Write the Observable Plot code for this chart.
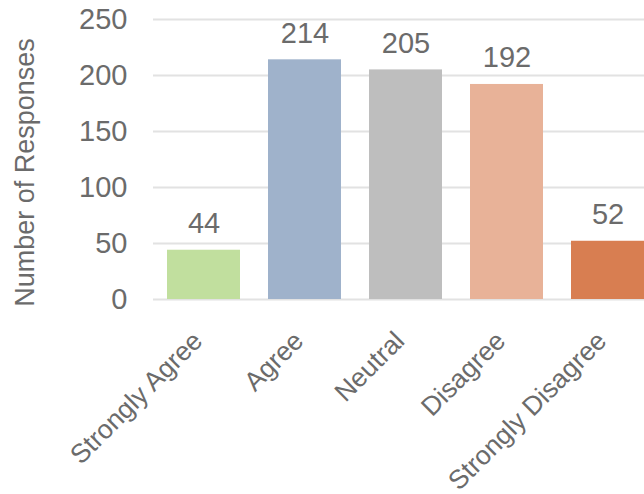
<!DOCTYPE html>
<html><head><meta charset="utf-8">
<script src="https://cdn.jsdelivr.net/npm/d3@7"></script>
<script src="https://cdn.jsdelivr.net/npm/@observablehq/plot@0.6"></script>
<style>body{margin:0;background:#fff}</style>
</head><body><div id="chart"></div>
<script>
const categories = ["Strongly Agree", "Agree", "Neutral", "Disagree", "Strongly Disagree"];
const responses = [44, 214, 205, 192, 52];
const barColors = ["#C1DF9E", "#9FB2CB", "#BEBEBE", "#E8B298", "#D87E51"];
const yTicks = [0, 50, 100, 150, 200, 250];
const yTitle = "Number of Responses";

const data = categories.map((c, i) => ({category: c, value: responses[i]}));
const textColor = "#6b6b6b";

const chart = Plot.plot({
  width: 644, height: 494,
  marginTop: 19, marginBottom: 195, marginLeft: 153, marginRight: 0,
  style: {fontFamily: "'Liberation Sans', Arial, sans-serif", background: "#fff", overflow: "visible"},
  x: {domain: categories, range: [153, 658], paddingInner: 0.28, paddingOuter: 0.14, axis: null},
  y: {domain: [0, 250], axis: null},
  color: {domain: categories, range: barColors},
  marks: [
    Plot.gridY(yTicks, {stroke: "#e2e2e2", strokeOpacity: 1, strokeWidth: 2}),
    Plot.barY(data, {x: "category", y: "value", fill: "category"}),
    Plot.axisY(yTicks, {tickSize: 0, tickPadding: 26, fontSize: 29, fill: textColor, label: null}),
    Plot.text(data, {x: "category", y: "value", text: d => String(d.value), dy: -17, lineAnchor: "bottom", fontSize: 29, fill: textColor}),
    Plot.text(categories, {x: d => d, frameAnchor: "bottom", rotate: -45, textAnchor: "end", dy: 43, dx: 0, fontSize: 26.5, fill: textColor}),
    Plot.text([yTitle], {frameAnchor: "left", textAnchor: "middle", rotate: -90, dx: -128, dy: 13, fontSize: 27, fill: textColor})
  ]
});
document.getElementById("chart").append(chart);
</script>
</body></html>
